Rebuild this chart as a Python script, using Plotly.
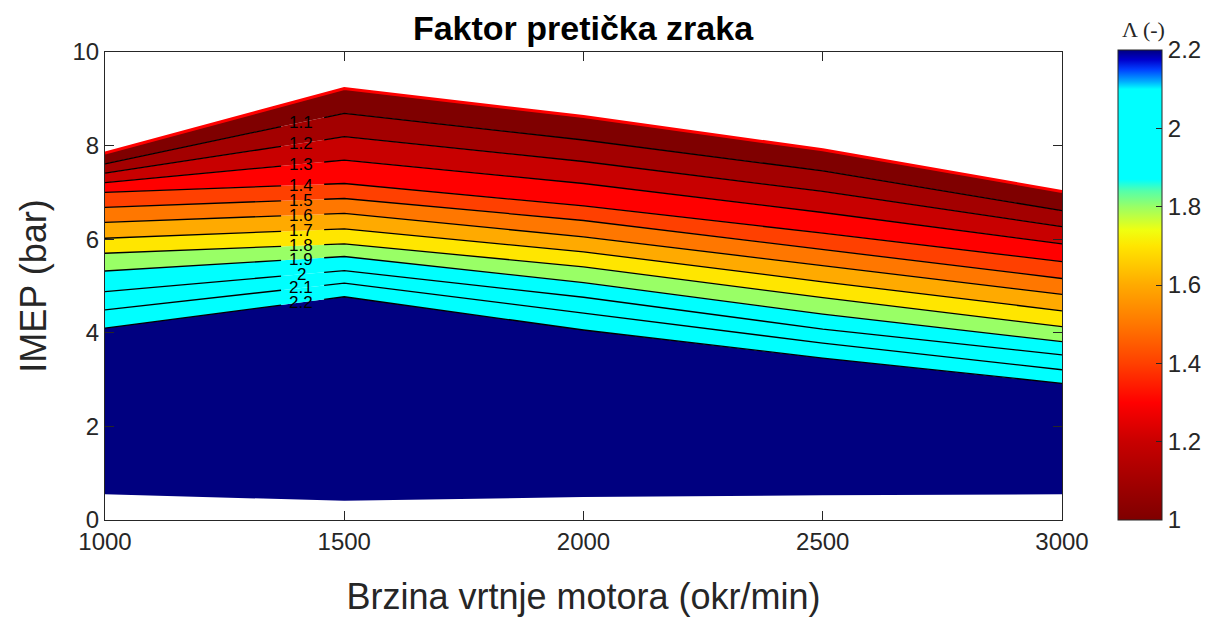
import numpy as np
import plotly.graph_objects as go
from plotly.colors import sample_colorscale

# ---------------- data ----------------
speeds = [1000, 1500, 2000, 2500, 3000]               # okr/min
imep_bottom = [0.55, 0.41, 0.49, 0.53, 0.55]          # lower edge of map (bar)
imep_top = [7.84, 9.22, 8.62, 7.91, 7.02]             # full-load line (bar)
levels = [2.2, 2.1, 2.0, 1.9, 1.8, 1.7, 1.6, 1.5, 1.4, 1.3, 1.2, 1.1]
level_imep = [
    [4.10, 4.77, 4.06, 3.46, 2.92],   # 2.2
    [4.49, 5.06, 4.42, 3.78, 3.21],   # 2.1
    [4.88, 5.33, 4.76, 4.08, 3.53],   # 2.0
    [5.32, 5.63, 5.07, 4.40, 3.81],   # 1.9
    [5.70, 5.90, 5.41, 4.75, 4.13],   # 1.8
    [6.02, 6.22, 5.73, 5.09, 4.47],   # 1.7
    [6.36, 6.55, 6.05, 5.43, 4.82],   # 1.6
    [6.68, 6.87, 6.40, 5.78, 5.16],   # 1.5
    [7.00, 7.19, 6.71, 6.13, 5.52],   # 1.4
    [7.21, 7.69, 7.19, 6.57, 5.90],   # 1.3
    [7.41, 8.19, 7.66, 7.02, 6.27],   # 1.2
    [7.61, 8.69, 8.12, 7.46, 6.61],   # 1.1
]
top_level = 1.0
level_labels = ["2.2", "2.1", "2", "1.9", "1.8", "1.7", "1.6", "1.5", "1.4", "1.3", "1.2", "1.1"]
cbar_ticks = [1.0, 1.2, 1.4, 1.6, 1.8, 2.0, 2.2]
cbar_ticktext = ["1", "1.2", "1.4", "1.6", "1.8", "2", "2.2"]
x_ticks = [1000, 1500, 2000, 2500, 3000]
y_ticks = [0, 2, 4, 6, 8, 10]

# ---------------- style ----------------
cmin, cmax = 1.0, 2.2
def t(v):
    return (v - cmin) / (cmax - cmin)

colorscale = [
    [t(1.00), "#7F0000"],
    [t(1.10), "#A30000"],
    [t(1.20), "#C80000"],
    [t(1.30), "#FF0000"],
    [t(1.40), "#FF4000"],
    [t(1.50), "#FF7700"],
    [t(1.60), "#FFAA00"],
    [t(1.70), "#FFE600"],
    [t(1.74), "#F0FF10"],
    [t(1.80), "#99FF66"],
    [t(1.84), "#55FFAA"],
    [t(1.87), "#00FFFF"],
    [t(2.10), "#00FFFF"],
    [t(2.12), "#00AAFF"],
    [t(2.15), "#0040FF"],
    [t(2.175), "#0000CC"],
    [t(2.20), "#000080"],
]

def col(v):
    return sample_colorscale(colorscale, [min(max(t(v), 0), 1)])[0]

FONT = "Liberation Sans"
AX = "#262626"

fig = go.Figure()

# filled bands (each filled down to the previous line)
fig.add_trace(go.Scatter(x=speeds, y=imep_bottom, mode="lines",
                         line=dict(width=0, color="rgba(0,0,0,0)"),
                         showlegend=False, hoverinfo="skip"))
for lev, row in zip(levels, level_imep):
    fig.add_trace(go.Scatter(x=speeds, y=row, mode="lines", fill="tonexty",
                             fillcolor=col(lev),
                             line=dict(width=0, color="rgba(0,0,0,0)"),
                             showlegend=False, hoverinfo="skip"))
fig.add_trace(go.Scatter(x=speeds, y=imep_top, mode="lines", fill="tonexty",
                         fillcolor=col(top_level),
                         line=dict(width=0, color="rgba(0,0,0,0)"),
                         showlegend=False, hoverinfo="skip"))

# contour lines, broken where the label sits
label_speed = 1410
gap_lo, gap_hi = 1368, 1458
for lev, row in zip(levels, level_imep):
    xs = [s for s in speeds if s < gap_lo] + [gap_lo, None, gap_hi] + [s for s in speeds if s > gap_hi]
    ys = [None if x is None else float(np.interp(x, speeds, row)) for x in xs]
    fig.add_trace(go.Scatter(x=xs, y=ys, mode="lines", connectgaps=False,
                             line=dict(color="black", width=1.3),
                             showlegend=False, hoverinfo="skip"))

# full-load line
fig.add_trace(go.Scatter(x=speeds, y=imep_top, mode="lines",
                         line=dict(color="#FF0000", width=3),
                         showlegend=False, hoverinfo="skip"))

# colour bar carrier
fig.add_trace(go.Scatter(x=[None], y=[None], mode="markers",
                         marker=dict(color=[cmin], cmin=cmin, cmax=cmax,
                                     colorscale=colorscale, showscale=True,
                                     colorbar=dict(
                                         x=(1118 - 105) / 957, xanchor="left",
                                         y=(520 - 50) / 468, yanchor="top",
                                         lenmode="pixels", len=470,
                                         thickness=44, outlinecolor=AX,
                                         outlinewidth=1, ypad=0, xpad=0,
                                         tickvals=cbar_ticks, ticktext=cbar_ticktext,
                                         ticks="inside", ticklen=6, tickcolor=AX,
                                         tickfont=dict(family=FONT, size=24, color=AX),
                                     )),
                         showlegend=False, hoverinfo="skip"))

# contour labels
annotations = []
for lab, row in zip(level_labels, level_imep):
    annotations.append(dict(x=label_speed, y=float(np.interp(label_speed, speeds, row)),
                            xref="x", yref="y", text=lab, showarrow=False,
                            font=dict(family=FONT, size=17, color="black")))
annotations.append(dict(x=(1143 - 105) / 957, y=(520 - 30) / 468, xref="paper", yref="paper",
                        xanchor="center", yanchor="middle",
                        text="Λ (-)", showarrow=False,
                        font=dict(family="Liberation Serif", size=22, color=AX)))

# the page has an 8 px body margin, so the figure is drawn from (8, 8)
fig.update_layout(
    width=1203, height=611,
    margin=dict(l=97, r=149, t=44, b=99, autoexpand=False),
    paper_bgcolor="white", plot_bgcolor="white",
    title=dict(text="<b>Faktor pretička zraka</b>", x=(583 - 105) / 957, xref="paper",
               xanchor="center", y=1 - 20 / 611, yanchor="middle",
               font=dict(family=FONT, size=34, color="black")),
    annotations=annotations,
    xaxis=dict(range=[1000, 3000], tickvals=x_ticks, ticks="inside", ticklen=9,
               tickcolor=AX, showline=True, linecolor=AX, linewidth=1, mirror="ticks",
               showgrid=False, zeroline=False,
               tickfont=dict(family=FONT, size=24, color=AX),
               title=dict(text="Brzina vrtnje motora (okr/min)", standoff=30,
                          font=dict(family=FONT, size=36, color=AX))),
    yaxis=dict(range=[0, 10], tickvals=y_ticks, ticks="inside", ticklen=9,
               tickcolor=AX, showline=True, linecolor=AX, linewidth=1, mirror="ticks",
               showgrid=False, zeroline=False,
               tickfont=dict(family=FONT, size=24, color=AX),
               title=dict(text="IMEP (bar)", standoff=14,
                          font=dict(family=FONT, size=36, color=AX))),
)

fig.write_html("out.html")
